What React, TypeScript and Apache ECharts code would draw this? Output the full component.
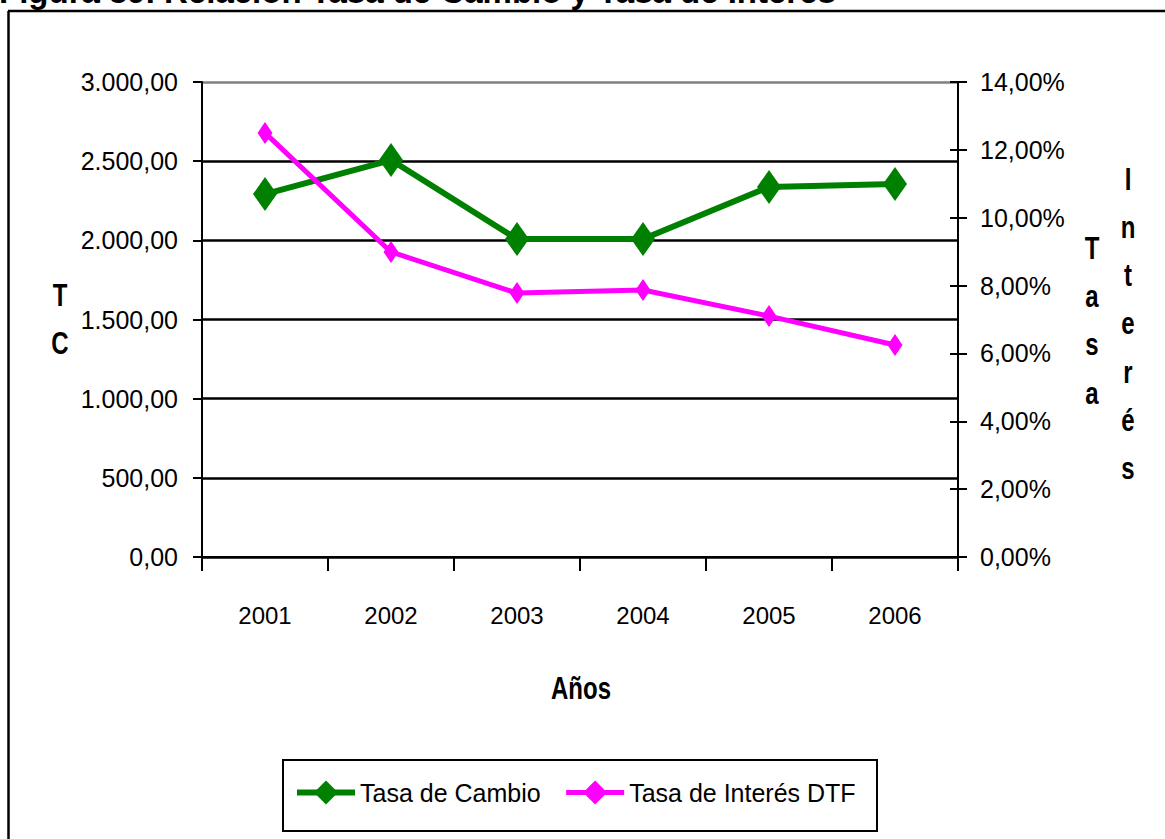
import React, { useEffect, useRef } from "react";
import * as echarts from "echarts";

const years = ["2001", "2002", "2003", "2004", "2005", "2006"];
const tasaCambio = [2292, 2507, 2008, 2008, 2337, 2356];
const tasaInteres = [12.5, 8.99, 7.78, 7.87, 7.1, 6.25];
const leftTicks = { min: 0, max: 3000, interval: 500 };
const rightTicks = { min: 0, max: 14, interval: 2 };

const SANS = "'Liberation Sans', Arial, sans-serif";

function fmtTC(v: number) {
  const s = v.toFixed(2);
  const [i, d] = s.split(".");
  return i.replace(/\B(?=(\d{3})+(?!\d))/g, ".") + "," + d;
}
function fmtPct(v: number) {
  return v.toFixed(2).replace(".", ",") + "%";
}

export default function App() {
  const ref = useRef<HTMLDivElement>(null);
  useEffect(() => {
    if (!ref.current) return;
    const chart = echarts.init(ref.current, undefined, { renderer: "svg" });
    const labelStyle = { color: "#000", fontFamily: SANS, fontSize: 25 };
    const nameFont = `bold 24px ${SANS}`;
    chart.setOption({
      animation: false,
      backgroundColor: "#fff",
      grid: { left: 202, right: 207, top: 82, bottom: 282 },
      legend: {
        left: 294,
        top: 780,
        padding: 0,
        itemWidth: 58,
        itemHeight: 30,
        itemGap: 23,
        textStyle: { ...labelStyle, fontSize: 25 },
        data: [
          { name: "Tasa de Cambio", lineStyle: { width: 6 } },
          { name: "Tasa de Interés DTF", lineStyle: { width: 5 } },
        ],
      },
      xAxis: {
        type: "category",
        data: years,
        boundaryGap: true,
        axisLine: { lineStyle: { color: "#000", width: 2 } },
        axisTick: { show: true, length: 14, lineStyle: { color: "#000", width: 2 } },
        axisLabel: { ...labelStyle, fontSize: 24, margin: 46 },
        splitLine: { show: false },
      },
      yAxis: [
        {
          type: "value",
          position: "left",
          ...leftTicks,
          axisLine: { show: true, lineStyle: { color: "#000", width: 2 } },
          axisTick: { show: true, length: 9, lineStyle: { color: "#000", width: 2 } },
          axisLabel: { ...labelStyle, margin: 24, formatter: (v: number) => fmtTC(v) },
          splitLine: {
            show: true,
            lineStyle: {
              width: 2.5,
              color: ["#000", "#000", "#000", "#000", "#000", "#000", "#808080"],
            },
          },
        },
        {
          type: "value",
          position: "right",
          ...rightTicks,
          axisLine: { show: true, lineStyle: { color: "#000", width: 2 } },
          axisTick: { show: true, length: 9, lineStyle: { color: "#000", width: 2 } },
          axisLabel: { ...labelStyle, margin: 22, formatter: (v: number) => fmtPct(v) },
          splitLine: { show: false },
        },
        {
          type: "value",
          position: "right",
          ...rightTicks,
          axisLine: { show: false },
          axisTick: { show: true, inside: true, length: 8, lineStyle: { color: "#000", width: 2 } },
          axisLabel: { show: false },
          splitLine: { show: false },
        },
      ],
      series: [
        {
          name: "Tasa de Cambio",
          type: "line",
          yAxisIndex: 0,
          data: tasaCambio,
          symbol: "diamond",
          symbolSize: [24, 34],
          lineStyle: { color: "#008000", width: 6 },
          itemStyle: { color: "#008000" },
          z: 3,
        },
        {
          name: "Tasa de Interés DTF",
          type: "line",
          yAxisIndex: 1,
          data: tasaInteres,
          symbol: "diamond",
          symbolSize: [15, 22],
          lineStyle: { color: "#FF00FF", width: 5 },
          itemStyle: { color: "#FF00FF" },
          z: 4,
        },
      ],
      graphic: [
        {
          type: "text",
          left: -1,
          top: -25,
          style: {
            text: "Figura 39. Relación Tasa de Cambio y Tasa de Interés",
            font: `bold 33px ${SANS}`,
            fill: "#000",
          },
        },
        { type: "line", shape: { x1: 8, y1: 11, x2: 1165, y2: 11 }, style: { stroke: "#000", lineWidth: 2.5 } },
        { type: "line", shape: { x1: 8.5, y1: 11, x2: 8.5, y2: 839 }, style: { stroke: "#000", lineWidth: 2.5 } },
        {
          type: "rect",
          shape: { x: 283, y: 760, width: 594, height: 71 },
          style: { stroke: "#000", lineWidth: 2, fill: "none" },
          z: -1,
        },
        {
          type: "text",
          x: 581,
          y: 688,
          scaleY: 1.34,
          style: { text: "Años", font: nameFont, fill: "#000", align: "center", verticalAlign: "middle" },
        },
        {
          type: "text",
          x: 60,
          y: 319,
          scaleY: 1.34,
          style: { text: "T\nC", font: nameFont, lineHeight: 36, fill: "#000", align: "center", verticalAlign: "middle" },
        },
        {
          type: "text",
          x: 1092,
          y: 320,
          scaleY: 1.34,
          style: { text: "T\na\ns\na", font: nameFont, lineHeight: 36, fill: "#000", align: "center", verticalAlign: "middle" },
        },
        {
          type: "text",
          x: 1128,
          y: 323,
          scaleY: 1.34,
          style: { text: "I\nn\nt\ne\nr\né\ns", font: nameFont, lineHeight: 36, fill: "#000", align: "center", verticalAlign: "middle" },
        },
      ],
    });
    return () => chart.dispose();
  }, []);
  return (
    <div
      ref={ref}
      style={{ position: "fixed", left: 0, top: 0, width: 1165, height: 839, background: "#fff" }}
    />
  );
}
